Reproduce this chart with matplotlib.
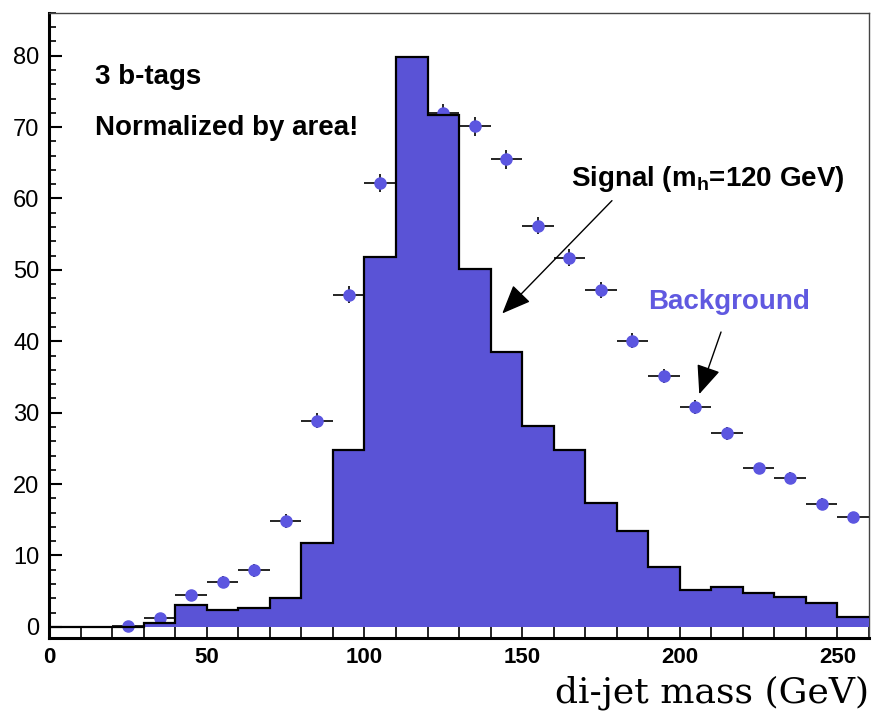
import numpy as np
import matplotlib
matplotlib.use("Agg")
import matplotlib.pyplot as plt
from matplotlib.ticker import MultipleLocator

# bins 0-260 GeV, width 10
edges = np.arange(0, 270, 10)

# signal histogram (m_h = 120 GeV), normalized by area
signal = [0, 0, 0, 0.5, 3.0, 2.4, 2.6, 4.0, 11.7, 24.8,
          51.8, 79.8, 71.7, 50.1, 38.5, 28.1, 24.8, 17.3, 13.4, 8.4,
          5.1, 5.6, 4.7, 4.2, 3.3, 1.4]

# background points (bin centres)
bkg_x = [25, 35, 45, 55, 65, 75, 85, 95, 105, 115, 125, 135, 145,
         155, 165, 175, 185, 195, 205, 215, 225, 235, 245, 255]
bkg_y = [0.1, 1.2, 4.4, 6.3, 7.9, 14.8, 28.9, 46.5, 62.2, 69.0, 72.0, 70.1, 65.5,
         56.2, 51.7, 47.2, 40.1, 35.1, 30.8, 27.1, 22.2, 20.9, 17.2, 15.4]
bkg_err = [0.5, 0.6, 0.8, 0.8, 0.9, 1.0, 1.0, 1.2, 1.3, 1.3, 1.3, 1.3, 1.3,
           1.2, 1.2, 1.1, 1.0, 1.0, 1.0, 0.9, 0.8, 0.8, 0.8, 0.7]

fill_col = "#5a53d6"
pt_col = "#5c56e0"

fig = plt.figure(figsize=(8.75, 7.14), dpi=100)
ax = fig.add_axes([0.0563, 0.107, 0.9367, 0.875])

# background first, histogram covers it
ax.errorbar(bkg_x, bkg_y, xerr=5, yerr=bkg_err, fmt="o", color=pt_col,
            ecolor="black", elinewidth=1.2, markersize=8, capsize=0, zorder=2)

ax.stairs(signal, edges, fill=True, color=fill_col, zorder=3, linewidth=0)
ax.stairs(signal, edges, baseline=None, color="black", linewidth=1.6, zorder=4)

ax.set_xlim(0, 260)
ax.set_ylim(-1.5, 86)

ax.xaxis.set_major_locator(MultipleLocator(50))
ax.xaxis.set_minor_locator(MultipleLocator(10))
ax.yaxis.set_major_locator(MultipleLocator(10))
ax.yaxis.set_minor_locator(MultipleLocator(2))

ax.tick_params(axis="x", which="both", direction="in", length=8, width=1.2, pad=7,
               top=False)
ax.tick_params(axis="y", which="major", direction="in", length=9, width=1.5, pad=7,
               right=False)
ax.tick_params(axis="y", which="minor", direction="in", length=5, width=1.2,
               right=False)

for lab in ax.get_xticklabels():
    lab.set_fontfamily("Liberation Sans")
    lab.set_fontweight("bold")
    lab.set_fontsize(16)
for lab in ax.get_yticklabels():
    lab.set_fontfamily("Liberation Sans")
    lab.set_fontsize(17)

for s in ["left", "bottom"]:
    ax.spines[s].set_linewidth(2.2)
    ax.spines[s].set_color("black")
for s in ["top", "right"]:
    ax.spines[s].set_linewidth(1.0)
    ax.spines[s].set_color("#444444")

txt_font = "Liberation Sans"
ax.text(14.5, 77, "3 b-tags", fontsize=20, fontweight="bold", family=txt_font,
        va="center", ha="left")
ax.text(14.5, 69.9, "Normalized by area!", fontsize=20, fontweight="bold",
        family=txt_font, va="center", ha="left")
ax.text(165.6, 62.8, "Signal (m$_\\mathregular{h}$=120 GeV)", fontsize=20,
        fontweight="bold", family=txt_font, va="center", ha="left")
ax.text(189.9, 45.5, "Background", fontsize=20, fontweight="bold",
        family=txt_font, color="#6059e0", va="center", ha="left")

arrow = dict(arrowstyle="-|>,head_length=1.8,head_width=0.75", color="black",
             lw=1.0, shrinkA=0, shrinkB=0)
ax.annotate("", xy=(143.7, 43.9), xytext=(178.5, 59.7), arrowprops=arrow, zorder=5)
ax.annotate("", xy=(206.2, 32.6), xytext=(213.1, 41.3), arrowprops=arrow, zorder=5)

fig.text(0.993, 0.016, "di-jet mass (GeV)", family="DejaVu Serif", fontsize=26,
         ha="right", va="baseline")

fig.savefig("out.png", dpi=100)
